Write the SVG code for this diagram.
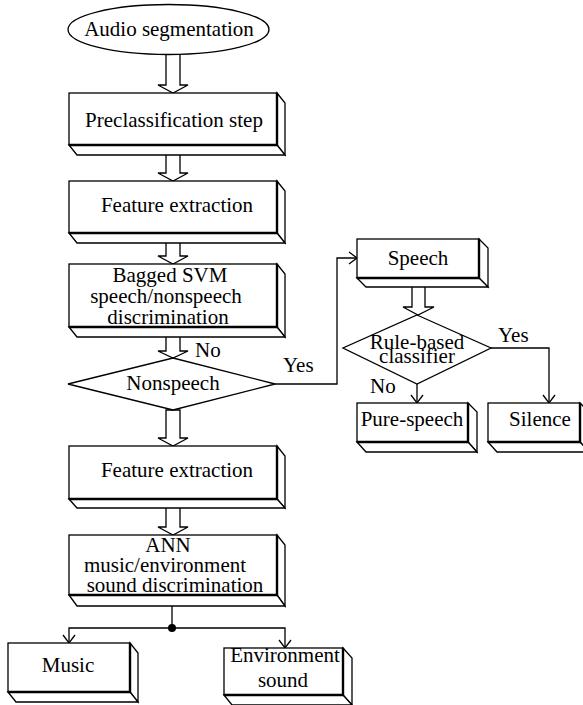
<svg xmlns="http://www.w3.org/2000/svg" width="583" height="705" viewBox="0 0 583 705">
<defs>
<style>
.s{fill:#fff;stroke:#000;stroke-width:1.3;stroke-linejoin:miter}
.e{fill:none;stroke:#000;stroke-width:2.4}
.c{fill:none;stroke:#000;stroke-width:1.3}
text{font-family:"Liberation Serif","Times New Roman",serif;font-size:21px;fill:#000;text-anchor:middle}
.l{text-anchor:start}
</style>
<marker id="ah" markerUnits="userSpaceOnUse" markerWidth="14" markerHeight="14" refX="8" refY="6" orient="auto" overflow="visible">
<path d="M0,0 L8,6 L0,12" fill="none" stroke="#000" stroke-width="1.3"/>
</marker>
</defs>
<rect width="583" height="705" fill="#fff"/>

<g id="connectors">
<polygon class="s" points="166,45 180,45 180,85 188,85 173,93 158,85 166,85"/>
<polygon class="s" points="166,145 180,145 180,173 188,173 173,181 158,173 166,173"/>
<polygon class="s" points="166,233 180,233 180,256 188,256 173,264 158,256 166,256"/>
<polygon class="s" points="166,327 180,327 180,351 188,351 173,358 158,351 166,351"/>
<polygon class="s" points="166,410 180,410 180,438 188,438 173,446 158,438 166,438"/>
<polygon class="s" points="166,499 180,499 180,527 188,527 173,535 158,527 166,527"/>
<polygon class="s" points="412,278 425,278 425,307 434,307 418,315 403,307 412,307"/>
<path class="c" d="M275,384 H337 V258 H357" marker-end="url(#ah)"/>
<path class="c" d="M491,348 H549 V403" marker-end="url(#ah)"/>
<path class="c" d="M417,384 V403" marker-end="url(#ah)"/>
<path class="c" d="M172,595 V628"/>
<path class="c" d="M172,628 H69 V643" marker-end="url(#ah)"/>
<path class="c" d="M172,628 H285 V648" marker-end="url(#ah)"/>
<circle cx="172" cy="628" r="4" fill="#000"/>
<text x="195" y="357" class="l">No</text>
<text x="283" y="372" class="l">Yes</text>
<text x="498" y="342" class="l">Yes</text>
<text x="370" y="393" class="l">No</text>
</g>

<g id="audio-segmentation">
<ellipse class="s" cx="168.5" cy="29.5" rx="100.5" ry="25"/>
<text x="169" y="36">Audio segmentation</text>
</g>

<g id="preclassification">
<polygon class="s" points="277,93 285,103 285,155 277,145"/>
<polygon class="s" points="69,145 77,155 285,155 277,145"/>
<rect class="s" x="69" y="93" width="208" height="52"/>
<path class="e" d="M69,145 H277 V93"/>
<text x="174" y="127">Preclassification step</text>
</g>

<g id="feature-extraction-1">
<polygon class="s" points="277,181 285,191 285,243 277,233"/>
<polygon class="s" points="69,233 77,243 285,243 277,233"/>
<rect class="s" x="69" y="181" width="208" height="52"/>
<path class="e" d="M69,233 H277 V181"/>
<text x="177" y="212">Feature extraction</text>
</g>

<g id="bagged-svm">
<polygon class="s" points="277,264 285,274 285,337 277,327"/>
<polygon class="s" points="69,327 77,337 285,337 277,327"/>
<rect class="s" x="69" y="264" width="208" height="63"/>
<path class="e" d="M69,327 H277 V264"/>
<text x="170" y="282">Bagged SVM</text>
<text x="166" y="303">speech/nonspeech</text>
<text x="168" y="324">discrimination</text>
</g>

<g id="nonspeech">
<polygon class="s" points="173,358 275,384 173,410 68,384"/>
<text x="173" y="390">Nonspeech</text>
</g>

<g id="feature-extraction-2">
<polygon class="s" points="277,446 285,456 285,508 277,499"/>
<polygon class="s" points="69,499 77,508 285,508 277,499"/>
<rect class="s" x="69" y="446" width="208" height="53"/>
<path class="e" d="M69,499 H277 V446"/>
<text x="177" y="477">Feature extraction</text>
</g>

<g id="ann">
<polygon class="s" points="277,535 285,545 285,606 277,595"/>
<polygon class="s" points="69,595 77,606 285,606 277,595"/>
<rect class="s" x="69" y="535" width="208" height="60"/>
<path class="e" d="M69,595 H277 V535"/>
<text x="168" y="552">ANN</text>
<text x="165" y="572">music/environment</text>
<text x="175" y="592">sound discrimination</text>
</g>

<g id="music">
<polygon class="s" points="130,643 138,653 138,702 130,692"/>
<polygon class="s" points="8,692 16,702 138,702 130,692"/>
<rect class="s" x="8" y="643" width="122" height="49"/>
<path class="e" d="M8,692 H130 V643"/>
<text x="68" y="672">Music</text>
</g>

<g id="environment-sound">
<polygon class="s" points="343,648 352,658 352,705 343,695"/>
<polygon class="s" points="224,695 232,705 352,705 343,695"/>
<rect class="s" x="224" y="648" width="119" height="47"/>
<path class="e" d="M224,695 H343 V648"/>
<text x="285" y="662">Environment</text>
<text x="283" y="687">sound</text>
</g>

<g id="speech">
<polygon class="s" points="479,239 488,248 488,287 479,278"/>
<polygon class="s" points="357,278 366,287 488,287 479,278"/>
<rect class="s" x="357" y="239" width="122" height="39"/>
<path class="e" d="M357,278 H479 V239"/>
<text x="418" y="265">Speech</text>
</g>

<g id="rule-based-classifier">
<polygon class="s" points="417,315 491,348 417,384 343,348"/>
<text x="417" y="349">Rule-based</text>
<text x="417" y="363">classifier</text>
</g>

<g id="pure-speech">
<polygon class="s" points="468,403 477,412 477,452 468,442"/>
<polygon class="s" points="357,442 366,452 477,452 468,442"/>
<rect class="s" x="357" y="403" width="111" height="39"/>
<path class="e" d="M357,442 H468 V403"/>
<text x="412" y="426">Pure-speech</text>
</g>

<g id="silence">
<polygon class="s" points="580,403 589,412 589,452 580,442"/>
<polygon class="s" points="488,442 497,452 589,452 580,442"/>
<rect class="s" x="488" y="403" width="92" height="39"/>
<path class="e" d="M488,442 H580 V403"/>
<text x="540" y="426">Silence</text>
</g>
</svg>
